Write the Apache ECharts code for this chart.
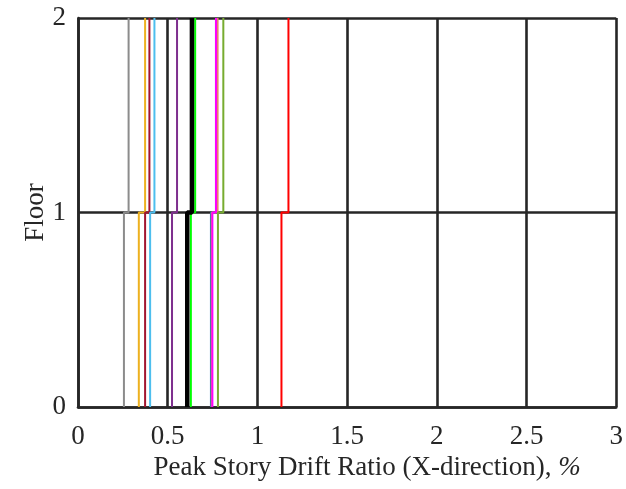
<!DOCTYPE html>
<html>
<head>
<meta charset="utf-8">
<script src="https://cdn.jsdelivr.net/npm/echarts@6/dist/echarts.min.js"></script>
<style>html,body{margin:0;padding:0;background:#fff;}#c{width:626px;height:489px;}</style>
</head>
<body>
<div id="c"></div>
<script>
// Data
const xTicks = [0, 0.5, 1, 1.5, 2, 2.5, 3];
const yTicks = [0, 1, 2];
const seriesNames = ['GM1','GM2','GM3','GM4','GM5','GM6','GM7','GM8','GM9','GM10','GM11','Mean'];
const story1Drift = [0.256, 0.339, 0.374, 0.402, 0.524, 0.629, 0.741, 0.745, 0.749, 0.780, 1.134, 0.609];
const story2Drift = [0.282, 0.374, 0.398, 0.426, 0.552, 0.653, 0.769, 0.778, 0.769, 0.810, 1.173, 0.635];

const colors = ['#8c8c8c','#EDB120','#A2142F','#4DBEEE','#7E2F8E','#00FF00','#0072BD','#E8806A','#FF00FF','#77AC30','#FF0000','#000000'];
const widths = [2,2,2,2,2,2,2,2,2,2,2,4.5];

const series = seriesNames.map((n, i) => ({
  name: n,
  type: 'line',
  data: [[story1Drift[i], yTicks[0]], [story1Drift[i], yTicks[1]], [story2Drift[i], yTicks[1]], [story2Drift[i], yTicks[2]]],
  showSymbol: false,
  symbol: 'none',
  clip: false,
  lineStyle: { color: colors[i], width: widths[i] },
  itemStyle: { color: colors[i] },
  z: 3 + i,
  animation: false
}));

const chart = echarts.init(document.getElementById('c'), null, { renderer: 'canvas' });
const font = '"Liberation Serif", "Times New Roman", serif';
const gridColor = '#262626';
chart.setOption({
  animation: false,
  backgroundColor: '#fff',
  grid: { left: 78, right: 6, top: 18, bottom: 82, containLabel: false },
  xAxis: {
    type: 'value', min: 0, max: 3, interval: 0.5,
    name: 'Peak Story Drift Ratio (X-direction), {i|%}',
    nameLocation: 'middle', nameGap: 47, nameMoveOverlap: false,
    nameTextStyle: { fontFamily: font, fontSize: 27, color: '#262626', padding: [0, 0, 0, 40],
      rich: { i: { fontFamily: font, fontSize: 27, fontStyle: 'italic', color: '#262626' } } },
    axisLine: { show: true, lineStyle: { color: gridColor, width: 2.6 } },
    axisTick: { show: false },
    splitLine: { show: true, lineStyle: { color: gridColor, width: 2.6 } },
    axisLabel: { fontFamily: font, fontSize: 27, color: '#262626', margin: 16,
      formatter: v => String(v) }
  },
  yAxis: {
    type: 'value', min: 0, max: 2, interval: 1,
    name: 'Floor', nameLocation: 'middle', nameGap: 29, nameMoveOverlap: false,
    nameTextStyle: { fontFamily: font, fontSize: 27, color: '#262626' },
    axisLine: { show: true, lineStyle: { color: gridColor, width: 2.6 } },
    axisTick: { show: false },
    splitLine: { show: true, lineStyle: { color: gridColor, width: 2.6 } },
    axisLabel: { fontFamily: font, fontSize: 27, color: '#262626', margin: 12 }
  },
  series: series
});
</script>
</body>
</html>
